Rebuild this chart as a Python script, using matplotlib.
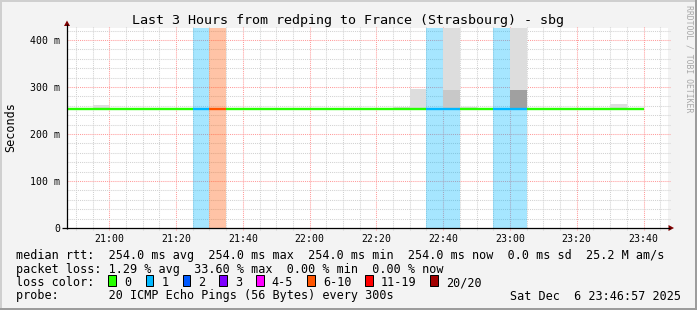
#!/usr/bin/env python3
import matplotlib
matplotlib.use("Agg")
import matplotlib.pyplot as plt
from matplotlib.patches import Rectangle, Polygon

W, H, DPI = 697, 310, 100
MONO = "DejaVu Sans Mono"

# 5 minute steps (step start, HH:MM)
steps = [
    "20:45", "20:50", "20:55", "21:00", "21:05", "21:10", "21:15", "21:20",
    "21:25", "21:30", "21:35", "21:40", "21:45", "21:50", "21:55", "22:00",
    "22:05", "22:10", "22:15", "22:20", "22:25", "22:30", "22:35", "22:40",
    "22:45", "22:50", "22:55", "23:00", "23:05", "23:10", "23:15", "23:20",
    "23:25", "23:30", "23:35",
]
median_ms = [254.0] * len(steps)
loss_pings = [
    0, 0, 0, 0, 0, 0, 0, 0,
    1, 7, 0, 0, 0, 0, 0, 0,
    0, 0, 0, 0, 0, 0, 1, 1,
    0, 0, 1, 1, 0, 0, 0, 0,
    0, 0, 0,
]

# smoke layers: step, low ms, high ms, shade
smoke_step = ["20:55", "22:25", "22:30", "22:40", "22:40", "22:45",
              "23:00", "23:00", "23:05", "23:15", "23:30"]
smoke_lo = [254, 254, 254, 254, 294, 254, 254, 294, 254, 254, 254]
smoke_hi = [262, 258, 295, 294, 500, 257, 294, 500, 256, 256, 264]
smoke_shade = ["#dddddd", "#dddddd", "#dddddd", "#c8c8c8", "#dddddd", "#dddddd",
               "#a0a0a0", "#dddddd", "#dddddd", "#dddddd", "#dddddd"]

loss_min = [0, 1, 2, 3, 4, 6, 11, 20]
loss_colors = ["#26ff00", "#00b8ff", "#0059ff", "#7e00ff", "#ff00ff",
               "#ff5500", "#ff0000", "#a10000"]
loss_labels = ["0", "1", "2", "3", "4-5", "6-10", "11-19", "20/20"]

xtick_labels = ["21:00", "21:20", "21:40", "22:00", "22:20", "22:40",
                "23:00", "23:20", "23:40"]
ytick_vals = [0.0, 0.1, 0.2, 0.3, 0.4]
ytick_labels = ["0", "100 m", "200 m", "300 m", "400 m"]

legend_lines = [
    "median rtt:  254.0 ms avg  254.0 ms max  254.0 ms min  254.0 ms now  0.0 ms sd  25.2 M am/s",
    "packet loss: 1.29 % avg  33.60 % max  0.00 % min  0.00 % now",
    "loss color:",
    "probe:       20 ICMP Echo Pings (56 Bytes) every 300s",
]
stamp = "Sat Dec  6 23:46:57 2025"
title = "Last 3 Hours from redping to France (Strasbourg) - sbg"


def minutes(hhmm):
    h, m = hhmm.split(":")
    return int(h) * 60 + int(m)


def loss_color(n):
    idx = 0
    for i, lo in enumerate(loss_min):
        if n >= lo:
            idx = i
    return loss_colors[idx]


X0 = 1247.33
STEP = 5

fig = plt.figure(figsize=(W / DPI, H / DPI), dpi=DPI)
fig.patch.set_facecolor("#f3f3f3")
ax = fig.add_axes([67 / W, (H - 228) / H, 601 / W, 200 / H])
ax.set_facecolor("white")
for s in ax.spines.values():
    s.set_visible(False)

# grid
dots = (0, (1, 1))
for t in range(1250, 1430, 5):
    major = t % 20 == 0
    ax.axvline(t, ymin=-0.012, ymax=1.012, clip_on=False, zorder=0.5,
               color="#ff9c9c" if major else "#d2d2d2", lw=0.75, linestyle=dots)
for k in range(1, 22):
    y = k * 0.02
    major = k % 5 == 0
    ax.axhline(y, xmin=0, xmax=1.004, clip_on=False, zorder=0.5,
               color="#ff9c9c" if major else "#d2d2d2", lw=0.75, linestyle=dots)

# loss bands
for st, n in zip(steps, loss_pings):
    if n > 0:
        x = minutes(st)
        ax.axvspan(x, x + STEP, color=loss_color(n), alpha=0.35, lw=0, zorder=1)

# smoke
ax.bar([minutes(s) for s in smoke_step],
       [(h - l) / 1000 for l, h in zip(smoke_lo, smoke_hi)],
       bottom=[l / 1000 for l in smoke_lo], width=STEP, align="edge",
       color=smoke_shade, lw=0, zorder=2)

# median line coloured by loss
ax.hlines([m / 1000 for m in median_ms],
          [minutes(s) for s in steps],
          [minutes(s) + STEP for s in steps],
          colors=[loss_color(n) for n in loss_pings], lw=1.7, zorder=3)

ax.set_xticks([minutes(t) for t in xtick_labels], xtick_labels)
ax.set_yticks(ytick_vals, ytick_labels)
ax.tick_params(axis="both", length=0, labelsize=7.1, colors="black")
ax.tick_params(axis="x", pad=4.6)
ax.tick_params(axis="y", pad=5.0)
for lab in ax.get_xticklabels() + ax.get_yticklabels():
    lab.set_fontfamily(MONO)
ax.set_xlim(X0, X0 + 180)
ax.set_ylim(0, 0.4255)

# overlay in pixel coordinates for frame, axes arrows and texts
ov = fig.add_axes([0, 0, 1, 1])
ov.set_xlim(0, W)
ov.set_ylim(H, 0)
ov.axis("off")
ov.patch.set_alpha(0)

ov.add_patch(Rectangle((0, 0), W, 2, color="#cfcfcf", lw=0))
ov.add_patch(Rectangle((0, 0), 2, H, color="#cfcfcf", lw=0))
ov.add_patch(Rectangle((W - 2, 0), 2, H, color="#9c9c9c", lw=0))
ov.add_patch(Rectangle((0, H - 2), W, 2, color="#9c9c9c", lw=0))

ov.plot([67, 67], [229, 24], color="black", lw=0.9, solid_capstyle="butt")
ov.plot([62, 670], [228, 228], color="black", lw=0.9, solid_capstyle="butt")
ov.add_patch(Polygon([(64, 26), (70, 26), (67, 20.5)], color="#800000", lw=0))
ov.add_patch(Polygon([(668.5, 225), (668.5, 231), (674, 228)], color="#800000", lw=0))

ov.text(348, 24, title, fontsize=9.6, family=MONO, ha="center", va="baseline")
ov.text(11, 127, "Seconds", fontsize=8.45, family=MONO, rotation=90,
        ha="center", va="center")
ov.text(688.5, 5, "RRDTOOL / TOBI OETIKER", fontsize=5.9, family=MONO,
        rotation=270, ha="center", va="top", color="#a8a8a8")

baselines = [258.8, 272.5, 286, 299.5]
for txt, yb in zip(legend_lines, baselines):
    ov.text(16, yb, txt, fontsize=8.45, family=MONO, ha="left", va="baseline")
ov.text(680.5, baselines[3], stamp, fontsize=8.45, family=MONO,
        ha="right", va="baseline")

box_x = [108.3, 145.7, 182.7, 219.3, 256.0, 307.3, 365.3, 430.3]
for bx, col, lab in zip(box_x, loss_colors, loss_labels):
    ov.add_patch(Rectangle((bx, 274.5), 7.7, 11.5, facecolor=col,
                           edgecolor="black", lw=0.72))
    ov.text(bx + 15.5, baselines[2], lab, fontsize=8.45, family=MONO,
            ha="left", va="baseline")

fig.savefig("out.png", dpi=DPI, facecolor=fig.get_facecolor())
